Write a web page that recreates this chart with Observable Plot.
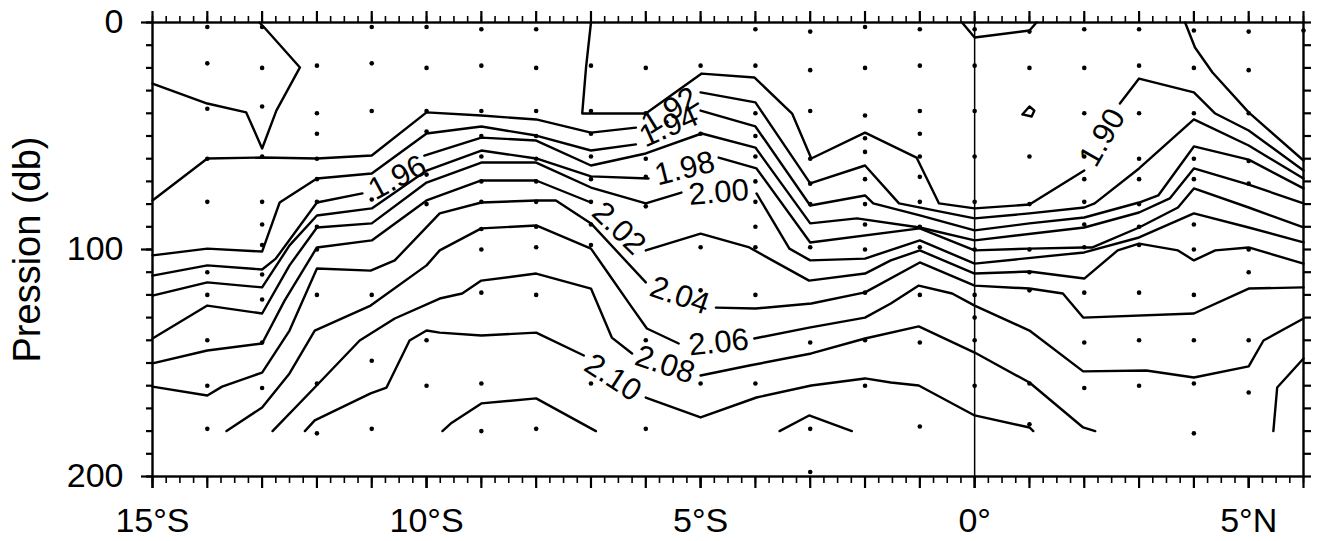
<!DOCTYPE html>
<html><head><meta charset="utf-8">
<script src="https://cdn.jsdelivr.net/npm/d3@7"></script>
<script src="https://cdn.jsdelivr.net/npm/@observablehq/plot@0.6"></script>
<style>
html,body{margin:0;padding:0;background:#fff;}
#chart svg{display:block;}
</style></head><body><div id="chart"></div>
<script>
// ---- contour segments: [latitude (°, S negative), pressure (db)] ----
const c188a = [[3.84,0],[4.02,11],[4.34,22],[5,39.6],[6,60.8]];
const c188b = [[-0.23,0],[0,6.6],[1,3.5],[1.13,0]];
const c188c = [[0.87,40.5],[1,37],[1.09,38.8],[1.04,41.4],[0.87,40.5]];
const c190a = [[-15,26.9],[-14,35.7],[-13.29,39.6],[-13,55.5],[-12.74,38.8],[-12.31,19.8],[-12.96,2.2],[-13.05,0]];
const c190b = [[-7,0],[-7.09,19.8],[-7.16,40.1],[-6,40.1],[-4.98,22.5],[-4.02,24.2],[-3.33,40.1],[-2.98,59.9],[-2,48.5],[-1.06,59.5],[-0.65,79.7],[0,81.9],[1,80.2],[2,65.2]];
const c190c = [[2.65,35.7],[3,24.7],[4,30.8],[4.39,40.1],[5,47.6],[6,65.2]];
const c192a = [[-15,78.4],[-14,59.9],[-13,59.5],[-12,59.9],[-11,58.6],[-10,39.6],[-9,41],[-8,42.7],[-7,48.5],[-6.18,46.3]];
const c192b = [[-5,30.8],[-4,35.2],[-3,70.9],[-2,63],[-1.38,79.7],[0,86.3],[1,84.1],[2,81.5],[2.19,79.7],[3,64.3],[4,42.7],[5,54.2],[6,68.7]];
const c194a = [[-15,102.6],[-14,99.6],[-13,100.9],[-12.68,79.3],[-12,68.7],[-11,66.5],[-10,48.9],[-9,45.8],[-8,49.8],[-7,56.4],[-6.18,53.7]];
const c194b = [[-5,38.8],[-4,45.8],[-3,80.6],[-2,76.2],[-1.85,79.7],[-1,85],[0,91.6],[1,88.5],[2,85.9],[3,79.3],[3.35,76.2],[4,54.6],[5,60.4],[6,73.1]];
const c196a = [[-15,111.5],[-14,107],[-13,108.8],[-12.75,104],[-12,79.3],[-11.17,75.3]];
const c196b = [[-10.04,58.6],[-9.58,55.1],[-9,50.7],[-8,52],[-7,63],[-6,57.7],[-4.98,48.9],[-4,55.1],[-3,88.5],[-2.15,86.3],[-1,90.3],[0,96],[2,90.3],[3,83.7],[3.56,77.5],[4,64.3],[5,71.4],[6,79.7]];
const c198a = [[-15,120.3],[-14,114.5],[-13,116.7],[-12.5,98.2],[-12,85],[-11,81.9],[-10,65.2],[-9,56.4],[-8,59.9],[-7,67.8],[-5.95,68.7]];
const c198b = [[-4.67,59.5],[-3.98,64.3],[-3,96.9],[-1,90.7],[0,100.4],[1,99.6],[2,99.1],[2.15,99.1],[3,90.3],[3.71,81.5],[4,73.1],[5,81.5],[6,90.3]];
const c200a = [[-15,139.2],[-14,124.7],[-13,128.2],[-12.5,107],[-12,90.3],[-11,88.5],[-10,70.5],[-9,61.7],[-8,61.7],[-7,72.7],[-6,79.7],[-5.35,74.9]];
const c200b = [[-3.98,75.3],[-3.38,99.6],[-3,104.8],[-2,104],[-1,96],[0,106.2],[2,101.3],[3,94.7],[4,84.1],[5,90.3],[6,96.9]];
const c202a = [[-15,150.2],[-14,144.5],[-13,141.4],[-12.59,122.5],[-12,99.1],[-11,96],[-10,78.4],[-9,69.6],[-8,69.6],[-7,79.3]];
const c202b = [[-6,100.4],[-5,93],[-4.11,99.1],[-3.69,104.8],[-3.02,113.7],[-2,110.6],[-1.53,104.8],[-1,100.4],[0,110.6],[1,109.7],[2,112.8],[2.61,100.4],[3,97.4],[3.71,100.4],[4,104.8],[4.39,100.4],[5,99.1],[6,106.2]];
const c204a = [[-15,160.4],[-14,164.3],[-13.73,160.4],[-13,154.2],[-12.5,135.7],[-12,108.4],[-11.02,109.3],[-10.58,104.8],[-9.76,84.1],[-9,79.3],[-8,78.4],[-7.64,78.4],[-7,88.5],[-6,114.5]];
const c204b = [[-4.72,125.6],[-4,126],[-2.98,123.8],[-2,118.9],[-1,105.7],[0,115.9],[1,117.2],[1.61,119.4],[1.98,130],[4,128.2],[5,117.2],[6,116.7]];
const c206a = [[-13.65,180],[-13,169.6],[-12.5,154.6],[-12.04,135.7],[-11.02,124.7],[-10,107],[-9.76,100.4],[-9,90.7],[-8,89.4],[-7,99.6],[-6.62,112.8],[-6.25,125.6],[-5.98,134.8],[-5.4,141.4]];
const c206b = [[-4.02,139.2],[-3.02,134.4],[-2,130],[-1.53,123.8],[-1.02,115.9],[-0.41,119.4],[0,124.7],[1,135.7],[1.98,153.7],[3.13,153.3],[4,156.4],[5,151.5],[5.27,140.1],[6,130.4]];
const c208a = [[-12.81,180],[-12.04,160.8],[-11.22,140.1],[-10.58,130.4],[-9.76,121.6],[-9.35,119.4],[-9,113.7],[-8,110.6],[-7,117.2],[-6.62,138.8],[-6.25,145.8]];
const c208b = [[-5,155.5],[-4.11,151.1],[-2.98,145.8],[-2,139.2],[-1.02,133.9],[0,145.4],[1,158.6],[1.98,178.4],[2.2,180]];
const c208c = [[5.45,180],[5.52,160.8],[6,148]];
const c210a = [[-12.22,180],[-12.04,175.3],[-11.02,163.4],[-10.73,160.8],[-10.31,140.1],[-10,135.7],[-9.76,136.6],[-9,137.9],[-8,136.6],[-7.13,146.7]];
const c210b = [[-6,165.2],[-5,174],[-3.98,165.2],[-2.98,159.9],[-2,156.8],[-1.53,158.6],[-1.02,159.9],[0,173.1],[1,178.4],[1.07,180]];
const c212a = [[-9.71,180],[-9.56,176.7],[-9,167.8],[-8,165.6],[-6.91,180]];
const c212b = [[-3.56,180],[-3.02,173.1],[-2.24,180]];

// ---- contour labels ----
const labelText  = ["1.90","1.92","1.94","1.96","1.98","2.00","2.02","2.04","2.06","2.08","2.10"];
const labelLat   = [2.33, -5.56, -5.58, -10.53, -5.29, -4.67, -6.49, -5.38, -4.67, -5.65, -6.6];
const labelP     = [50.7, 38.8, 45.8, 68.3, 64.3, 74.9, 90.7, 120.3, 141, 150.7, 156.4];
const labelAngle = [-60, -32, -24, -28, -14, -5, 44, 19, -6, 19, 33];

// ---- stations (sample positions) ----
const stationLats = [-14,-13,-12,-11,-10,-9,-8,-7,-6,-5,-4,-3,-2,-1,0,1,2,3,4,5,6];
const stationDepths = [
  [2,18,38,60,79,110,120,140,160,179],
  [2,20,37,59,79,89,98,111,122,141,161],
  [19,40,49,60,69,79,90,100,120,159,181],
  [2,18,39,78,120,149,179],
  [2,20,39,48,67,80,140,160],
  [3,19,39,50,59,70,79,91,100,119,159,180],
  [3,20,39,50,60,70,79,90,99,120,179],
  [19,39,49,59,69,79,89,98,159],
  [20,40,60,68,81,140,179],
  [19,49,99,118,159],
  [3,19,40,50,59,70,79,90,99,120,159],
  [4,21,39,60,71,80,99,141,179,198],
  [2,20,41,51,57,69,80,89,100,119,140,160],
  [3,19,39,49,59,68,79,90,99,120,141,178],
  [3,19,39,59,79,100,120,130,140,160],
  [4,20,59,80,100,110,118,159,177],
  [3,20,40,59,69,79,89,99,119,141,161],
  [3,19,40,60,69,80,90,98,119,140,160],
  [3.5,20,40,60,69,89,100,120,140,159,181],
  [4,21,40,61,71,100,110,140,163],
  [3.5]
];

// ---- axis ticks ----
const xLabelTicks = [-15,-10,-5,0,5];
const xLabelText  = ["15°S","10°S","5°S","0°","5°N"];
const yLabelTicks = [0,100,200];
const yLabelText  = ["0","100","200"];

const segments = [
  ["1.88",c188a],["1.88",c188b],["1.88",c188c],
  ["1.90",c190a],["1.90",c190b],["1.90",c190c],
  ["1.92",c192a],["1.92",c192b],
  ["1.94",c194a],["1.94",c194b],
  ["1.96",c196a],["1.96",c196b],
  ["1.98",c198a],["1.98",c198b],
  ["2.00",c200a],["2.00",c200b],
  ["2.02",c202a],["2.02",c202b],
  ["2.04",c204a],["2.04",c204b],
  ["2.06",c206a],["2.06",c206b],
  ["2.08",c208a],["2.08",c208b],["2.08",c208c],
  ["2.10",c210a],["2.10",c210b],
  ["2.12",c212a],["2.12",c212b]
];
const rows = segments.flatMap(([lvl, pts], k) => pts.map(([lat, p]) => ({lat, p, seg: k, lvl})));
const stations = stationLats.flatMap((lat, i) => stationDepths[i].map(p => ({lat, p})));
const labels = labelText.map((t, i) => ({t, lat: labelLat[i], p: labelP[i], a: labelAngle[i]}));

const xFmt = new Map(xLabelTicks.map((v, i) => [v, xLabelText[i]]));
const yFmt = new Map(yLabelTicks.map((v, i) => [v, yLabelText[i]]));
const quarter = d3.range(-15, 6.0001, 0.25);
const whole = d3.range(-15, 6.0001, 1);
const tens = d3.range(0, 200.001, 10);
const blank = () => "";

const chart = Plot.plot({
  width: 1319, height: 541,
  marginLeft: 152, marginRight: 16, marginTop: 22, marginBottom: 65,
  style: {fontFamily: "'Liberation Sans', Arial, Helvetica, sans-serif", background: "#fff", color: "#000", overflow: "visible"},
  x: {domain: [-15, 6]},
  y: {domain: [0, 200], reverse: true},
  marks: [
    Plot.dot(stations, {x: "lat", y: "p", r: 2.3, fill: "#000", stroke: "none"}),
    Plot.line(rows, {x: "lat", y: "p", z: "seg", stroke: "#000", strokeWidth: 2.4}),
    Plot.text(labels, {x: "lat", y: "p", text: "t", rotate: "a", fontSize: 31, fill: "#000"}),
    Plot.ruleX([0], {stroke: "#000", strokeWidth: 1.5}),
    Plot.frame({stroke: "#000", strokeWidth: 2.4}),
    // bottom axis
    Plot.axisX({anchor: "bottom", ticks: quarter, tickSize: 7, tickFormat: blank, label: null, strokeWidth: 1.6}),
    Plot.axisX({anchor: "bottom", ticks: whole, tickSize: 12, tickFormat: blank, label: null, strokeWidth: 2.2}),
    Plot.axisX({anchor: "bottom", ticks: xLabelTicks, tickSize: 12, tickPadding: 19, tickFormat: d => xFmt.get(d), label: null, fontSize: 34, strokeWidth: 2.2}),
    // top axis
    Plot.axisX({anchor: "top", ticks: quarter, tickSize: 7, tickFormat: blank, label: null, strokeWidth: 1.6}),
    Plot.axisX({anchor: "top", ticks: whole, tickSize: 12, tickFormat: blank, label: null, strokeWidth: 2.2}),
    // left axis
    Plot.axisY({anchor: "left", ticks: tens, tickSize: 6, tickFormat: blank, label: null, strokeWidth: 2.2}),
    Plot.axisY({anchor: "left", ticks: yLabelTicks, tickSize: 11, tickPadding: 18, tickFormat: d => yFmt.get(d), label: null, fontSize: 34, strokeWidth: 2.2}),
    // right axis
    Plot.axisY({anchor: "right", ticks: tens, tickSize: 7, tickFormat: blank, label: null, strokeWidth: 2.2}),
    // y title
    Plot.text(["Pression (db)"], {frameAnchor: "left", textAnchor: "middle", lineAnchor: "middle", rotate: -90, dx: -125, fontSize: 38, fill: "#000"})
  ]
});
document.getElementById("chart").append(chart);
</script>
</body></html>
